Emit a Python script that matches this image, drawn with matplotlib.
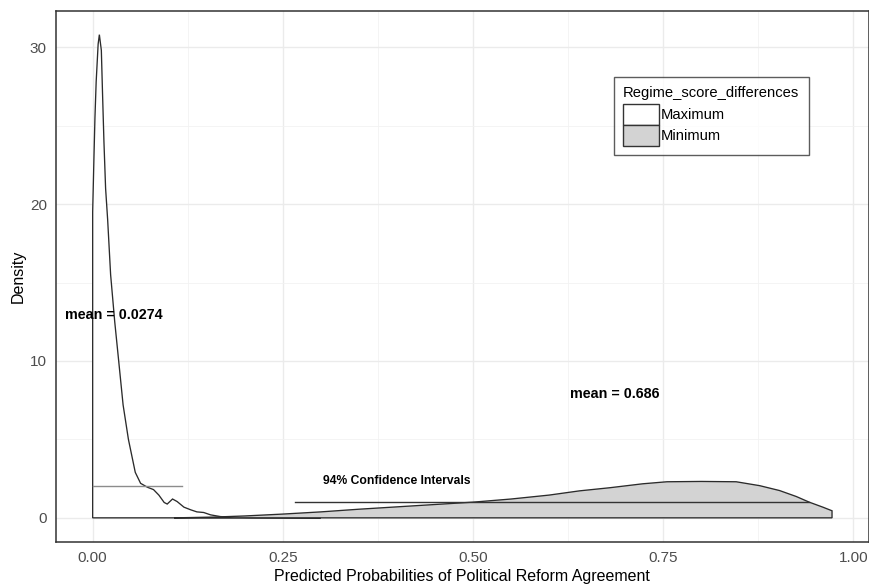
import matplotlib
matplotlib.use("Agg")
import matplotlib.pyplot as plt
from matplotlib import font_manager
from matplotlib.patches import Patch
from matplotlib.ticker import MultipleLocator

# Density estimates of predicted probabilities, by regime score difference group
max_x = [0.0, 0.0017, 0.003, 0.0046, 0.0072, 0.0088, 0.0114, 0.013, 0.0148, 0.017,
         0.0197, 0.0236, 0.029, 0.034, 0.040, 0.047, 0.056, 0.063, 0.072, 0.080,
         0.087, 0.094, 0.098, 0.105, 0.111, 0.120, 0.129, 0.137, 0.146, 0.155,
         0.168, 0.185, 0.21, 0.25, 0.30]
max_y = [19.5, 23.0, 25.5, 27.8, 30.2, 30.8, 29.8, 27.0, 24.0, 21.0,
         19.0, 15.5, 12.5, 10.1, 7.2, 5.0, 2.9, 2.2, 1.95, 1.8,
         1.45, 0.98, 0.88, 1.2, 1.04, 0.68, 0.51, 0.38, 0.34, 0.19,
         0.08, 0.04, 0.02, 0.01, 0.0]

min_x = [0.107, 0.13, 0.16, 0.2, 0.25, 0.3, 0.35, 0.4, 0.45, 0.5, 0.55, 0.6,
         0.64, 0.68, 0.723, 0.755, 0.8, 0.846, 0.877, 0.903, 0.925, 0.942, 0.96, 0.972]
min_y = [0.0, 0.02, 0.05, 0.12, 0.24, 0.38, 0.55, 0.70, 0.85, 1.0, 1.2, 1.45,
         1.72, 1.92, 2.17, 2.3, 2.32, 2.3, 2.05, 1.74, 1.36, 1.0, 0.68, 0.45]

groups = ["Maximum", "Minimum"]
means = [0.0274, 0.686]
mean_label_y = [12.9, 7.9]
ci_low = [0.0, 0.266]
ci_high = [0.117, 0.942]
ci_level = [2.0, 1.0]

x_ticks = [0.0, 0.25, 0.5, 0.75, 1.0]
x_tick_labels = ["0.00", "0.25", "0.50", "0.75", "1.00"]
y_ticks = [0, 10, 20, 30]

names = {f.name for f in font_manager.fontManager.ttflist}
narrow = "Liberation Sans Narrow" if "Liberation Sans Narrow" in names else "Liberation Sans"
regular = "Liberation Sans"

fig = plt.figure(figsize=(8.7, 5.88), dpi=100)
ax = fig.add_axes([55.7 / 870, 1 - 542 / 588, (869 - 55.7) / 870, (542 - 10.5) / 588])

ax.set_xlim(-0.0486, 1.0206)
ax.set_ylim(-1.54, 32.34)

# grid
ax.xaxis.set_major_locator(MultipleLocator(0.25))
ax.xaxis.set_minor_locator(MultipleLocator(0.125))
ax.yaxis.set_major_locator(MultipleLocator(10))
ax.yaxis.set_minor_locator(MultipleLocator(5))
ax.grid(which="major", color="#EBEBEB", lw=1.0)
ax.grid(which="minor", color="#F2F2F2", lw=0.6)
ax.set_axisbelow(True)

fills = ["white", "#D3D3D3"]
line_col = "#2b2b2b"

# density polygons (closed, drawn to the baseline)
for xs, ys, fc in [(max_x, max_y, fills[0]), (min_x, min_y, fills[1])]:
    px = [xs[0]] + list(xs) + [xs[-1]]
    py = [0.0] + list(ys) + [0.0]
    ax.fill(px, py, facecolor=fc, edgecolor=line_col, lw=0.95, zorder=2)

# confidence interval segments
ci_cols = ["#8c8c8c", "#333333"]
for lo, hi, lvl, c in zip(ci_low, ci_high, ci_level, ci_cols):
    ax.plot([lo, hi], [lvl, lvl], color=c, lw=1.0, zorder=3)

# mean labels
for m, yy in zip(means, mean_label_y):
    ax.text(m, yy, f"mean = {m}", ha="center", va="center", fontsize=10.3,
            fontweight="bold", family=regular, color="black", zorder=4)

ax.text(0.4, 2.36, "94% Confidence Intervals", ha="center", va="center",
        fontsize=8.7, fontweight="bold", family=regular, color="black", zorder=4)

# axes styling
for s in ax.spines.values():
    s.set_color("#333333")
    s.set_linewidth(1.1)
ax.set_xticks(x_ticks)
ax.set_xticklabels(x_tick_labels)
ax.set_yticks(y_ticks)
ax.tick_params(which="both", length=0, pad=6.3, labelsize=11, labelcolor="#4D4D4D")
for lab in ax.get_xticklabels() + ax.get_yticklabels():
    lab.set_family(narrow)

ax.set_xlabel("Predicted Probabilities of Political Reform Agreement", fontsize=11.5,
              family=narrow, color="black", labelpad=3)
ax.set_ylabel("Density", fontsize=11.5, family=narrow, color="black", labelpad=3)

handles = [Patch(facecolor=fills[0], edgecolor="#333333", lw=1.0),
           Patch(facecolor=fills[1], edgecolor="#333333", lw=1.0)]
leg = ax.legend(handles, groups, title="Regime_score_differences",
                loc="upper left", bbox_to_anchor=((614 - 55.7) / (869 - 55.7), (542 - 77) / (542 - 10.5)),
                borderaxespad=0, fancybox=False, frameon=True,
                title_fontsize=10.6, handlelength=2.45, handleheight=1.85,
                handletextpad=0.12, labelspacing=0.0, borderpad=0.62,
                prop={"family": regular, "size": 10.6})
leg.get_title().set_family(regular)
leg._legend_box.align = "left"
leg._legend_box.sep = 2.5
leg.get_frame().set_edgecolor("#333333")
leg.get_frame().set_linewidth(1.0)

fig.savefig("out.png", dpi=100)
